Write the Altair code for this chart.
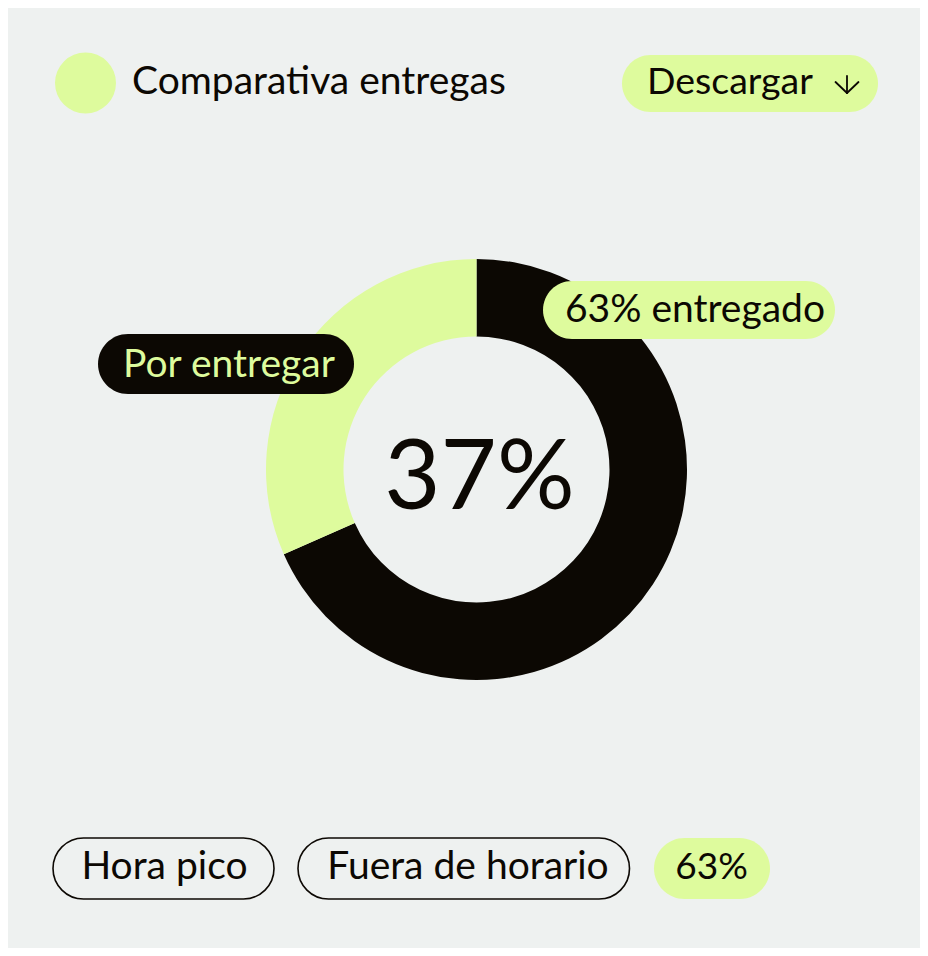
import altair as alt
import pandas as pd

# ---- data -------------------------------------------------------------
status = ["entregado", "por entregar"]
share = [68.4, 31.6]          # arc sizes as drawn in the reference
slice_colors = ["#0C0803", "#DEFB9D"]
center_label = ["37%"]
title_text = ["Comparativa entregas"]
button_text = ["Descargar"]
delivered_label = ["63% entregado"]
pending_label = ["Por entregar"]
chips = ["Hora pico", "Fuera de horario", "63%"]

BG = "#EEF1F0"
LIME = "#DEFB9D"
INK = "#0C0803"
FONT = "Lato"
FS = 39
M = 8  # page margin


def P(v):
    return v - M


def rect(x1, y1, x2, y2, fill, stroke=None):
    kw = dict(cornerRadius=(y2 - y1) / 2, fill=fill)
    if stroke:
        kw.update(stroke=stroke, strokeWidth=1.6)
    return alt.Chart(pd.DataFrame({"k": [0]})).mark_rect(**kw).encode(
        x=alt.value(P(x1)), x2=alt.value(P(x2)),
        y=alt.value(P(y1)), y2=alt.value(P(y2)))


def label(txt, x, y, color=INK, size=FS, align="center"):
    return alt.Chart(pd.DataFrame({"t": txt})).mark_text(
        font=FONT, fontSize=size, color=color, align=align, baseline="alphabetic"
    ).encode(x=alt.value(P(x)), y=alt.value(P(y)), text="t:N")


def line(x1, y1, x2, y2):
    return alt.Chart(pd.DataFrame({"k": [0]})).mark_rule(
        color=INK, strokeWidth=1.8, strokeCap="round").encode(
        x=alt.value(P(x1)), y=alt.value(P(y1)),
        x2=alt.value(P(x2)), y2=alt.value(P(y2)))


donut_df = pd.DataFrame({"status": status, "share": share, "ord": [0, 1]})
donut = alt.Chart(donut_df).mark_arc(innerRadius=133, outerRadius=210.5).encode(
    theta=alt.Theta("share:Q", stack=True),
    color=alt.Color("status:N", scale=alt.Scale(domain=status, range=slice_colors), legend=None),
    order=alt.Order("ord:Q"),
    x=alt.value(P(476.5)), y=alt.value(P(469.5)),
)

dot = alt.Chart(pd.DataFrame({"k": [0]})).mark_point(
    shape="circle", filled=True, opacity=1, size=3721, color=LIME
).encode(x=alt.value(P(85.5)), y=alt.value(P(83)))

layers = [
    donut,
    dot,
    label(title_text, 132, 94, align="left"),
    rect(622, 55, 878, 112, LIME),
    label(button_text, 647, 94, align="left", size=37.5),
    line(847, 76, 847, 93),
    line(835.5, 82, 847, 93),
    line(858.5, 82, 847, 93),
    rect(543, 281, 835, 339, LIME),
    label(delivered_label, 695, 322),
    rect(98, 334, 354, 394, INK),
    label(pending_label, 229, 377, color=LIME),
    label(center_label, 479.5, 509, size=97),
    rect(53, 838, 274, 899, "transparent", stroke=INK),
    label([chips[0]], 164.5, 879),
    rect(298, 838, 629.5, 899, "transparent", stroke=INK),
    label([chips[1]], 468, 879),
    rect(654, 838, 770, 899, LIME),
    label([chips[2]], 711.5, 879, size=37),
]

chart = alt.layer(*layers).properties(
    width=912, height=940, padding=0, background=BG,
    autosize=alt.AutoSizeParams(type="none"),
).configure_view(strokeWidth=0)

chart.save("out.html", embed_options={"renderer": "svg", "actions": False})
